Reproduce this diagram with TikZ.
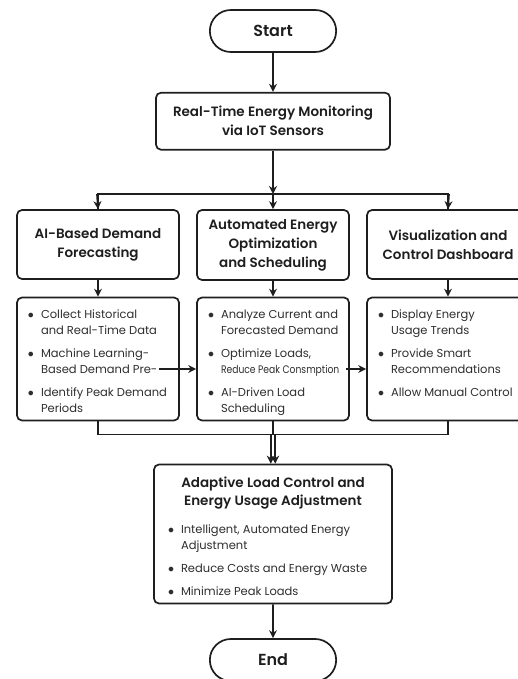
\documentclass[tikz,border=0pt]{standalone}
\usepackage{fontspec}
\setmainfont{Poppins}[BoldFont={Poppins SemiBold}]
\usepackage{enumitem}
\usetikzlibrary{positioning, shapes.misc, arrows.meta}
\definecolor{ink}{HTML}{1E1E1E}
\definecolor{bodytext}{HTML}{2E2E2E}
\tikzstyle{arrow} = [line width=1.7pt,draw=ink,-{Stealth[length=8pt,width=8pt]}]
\newcommand{\points}[1]{\begin{itemize}[leftmargin=14pt,labelsep=7pt,itemsep=7pt,topsep=0pt,parsep=0pt,partopsep=0pt,label={$\bullet$}]#1\end{itemize}}
\newcommand{\itembox}[3]{\begin{minipage}[c][#2][t]{#1}\color{bodytext}\points{#3}\end{minipage}}

\begin{document}
\begin{tikzpicture}[
        x=1pt, y=-1pt,
        every node/.style={font=\fontsize{11.5}{16}\selectfont, text=ink},
        terminal/.style={rounded rectangle, draw=ink, line width=1.7pt, minimum width=133pt, minimum height=42pt, font=\fontsize{16}{18}\selectfont\bfseries},
        stage/.style={rectangle, rounded corners=5pt, draw=ink, line width=1.7pt, align=center, font=\fontsize{13.5}{19}\selectfont\bfseries},
        items/.style={rectangle, rounded corners=5pt, draw=ink, line width=1.7pt, inner xsep=10pt, inner ysep=12pt},
        link/.style={line width=1.7pt, draw=ink}
    ]
    \useasboundingbox (0,0) rectangle (517,679);

    % Nodes
    \node (start) [terminal] at (273,31) {Start};
    \node (monitor) [stage, minimum width=234pt, minimum height=57pt, below=39pt of start] {Real-Time Energy Monitoring\\via IoT Sensors};

    \node (forecast) [stage, minimum width=162pt, minimum height=69pt] at (98,244.5) {AI-Based Demand\\Forecasting};
    \node (optimize) [stage, minimum width=152pt, minimum height=70pt] at (273,245) {Automated Energy\\Optimization\\and Scheduling};
    \node (dashboard) [stage, minimum width=162pt, minimum height=69pt] at (448,244.5) {Visualization and\\Control Dashboard};

    \node (forecastitems) [items] at (98,359) {\itembox{142pt}{99pt}{
        \item Collect Historical\\and Real-Time Data
        \item Machine Learning-\\Based Demand Pre-
        \item Identify Peak Demand\\Periods}};
    \node (optimizeitems) [items] at (273,359) {\itembox{132pt}{99pt}{
        \item Analyze Current and\\Forecasted Demand
        \item Optimize Loads,\\\scalebox{0.8}[0.95]{Reduce Peak Consmption}
        \item AI-Driven Load\\Scheduling}};
    \node (dashboarditems) [items] at (448,359) {\itembox{142pt}{99pt}{
        \item Display Energy\\Usage Trends
        \item Provide Smart\\Recommendations
        \item Allow Manual Control}};

    \node (adjust) [items, inner xsep=13pt, inner ysep=12pt] at (273,534) {\begin{minipage}[c][115pt][t]{212pt}
        {\centering\fontsize{13.5}{18}\selectfont\bfseries Adaptive Load Control and\\Energy Usage Adjustment\par}
        \vspace{12pt}
        \color{bodytext}\points{
        \item Intelligent, Automated Energy\\Adjustment
        \item Reduce Costs and Energy Waste
        \item Minimize Peak Loads}
        \end{minipage}};

    \node (end) [terminal] at (273,660) {End};

    % Arrows
    \coordinate (split) at (273,194);
    \coordinate (merge) at (273,434.5);

    \draw [arrow] (start) -- (monitor);
    \draw [arrow] (monitor) -- (split);
    \draw [link] (split) -| (forecast.north);
    \draw [link] (split) -| (dashboard.north);
    \draw [arrow] (split) -- (optimize.north);
    \draw [arrow] ([xshift=-1pt]split -| forecast.north) -- (forecast.north);
    \draw [arrow] ([xshift=1pt]split -| dashboard.north) -- (dashboard.north);

    \draw [arrow] (forecast) -- (forecastitems);
    \draw [arrow] (optimize) -- (optimizeitems);
    \draw [arrow] (dashboard) -- (dashboarditems);

    \draw [arrow] ([shift={(-21,10)}]forecastitems.east) -- ([shift={(0,10)}]optimizeitems.west);
    \draw [arrow] ([shift={(-4,10)}]optimizeitems.east) -- ([shift={(0,10)}]dashboarditems.west);

    \draw [link] (optimizeitems.south) -- (merge);
    \draw [arrow] (forecastitems.south) |- ([xshift=-2.2pt]merge) -- ([xshift=-2.2pt]adjust.north);
    \draw [arrow] (dashboarditems.south) |- ([xshift=2.2pt]merge) -- ([xshift=2.2pt]adjust.north);

    \draw [arrow] (adjust) -- (end);

    \end{tikzpicture}
\end{document}
